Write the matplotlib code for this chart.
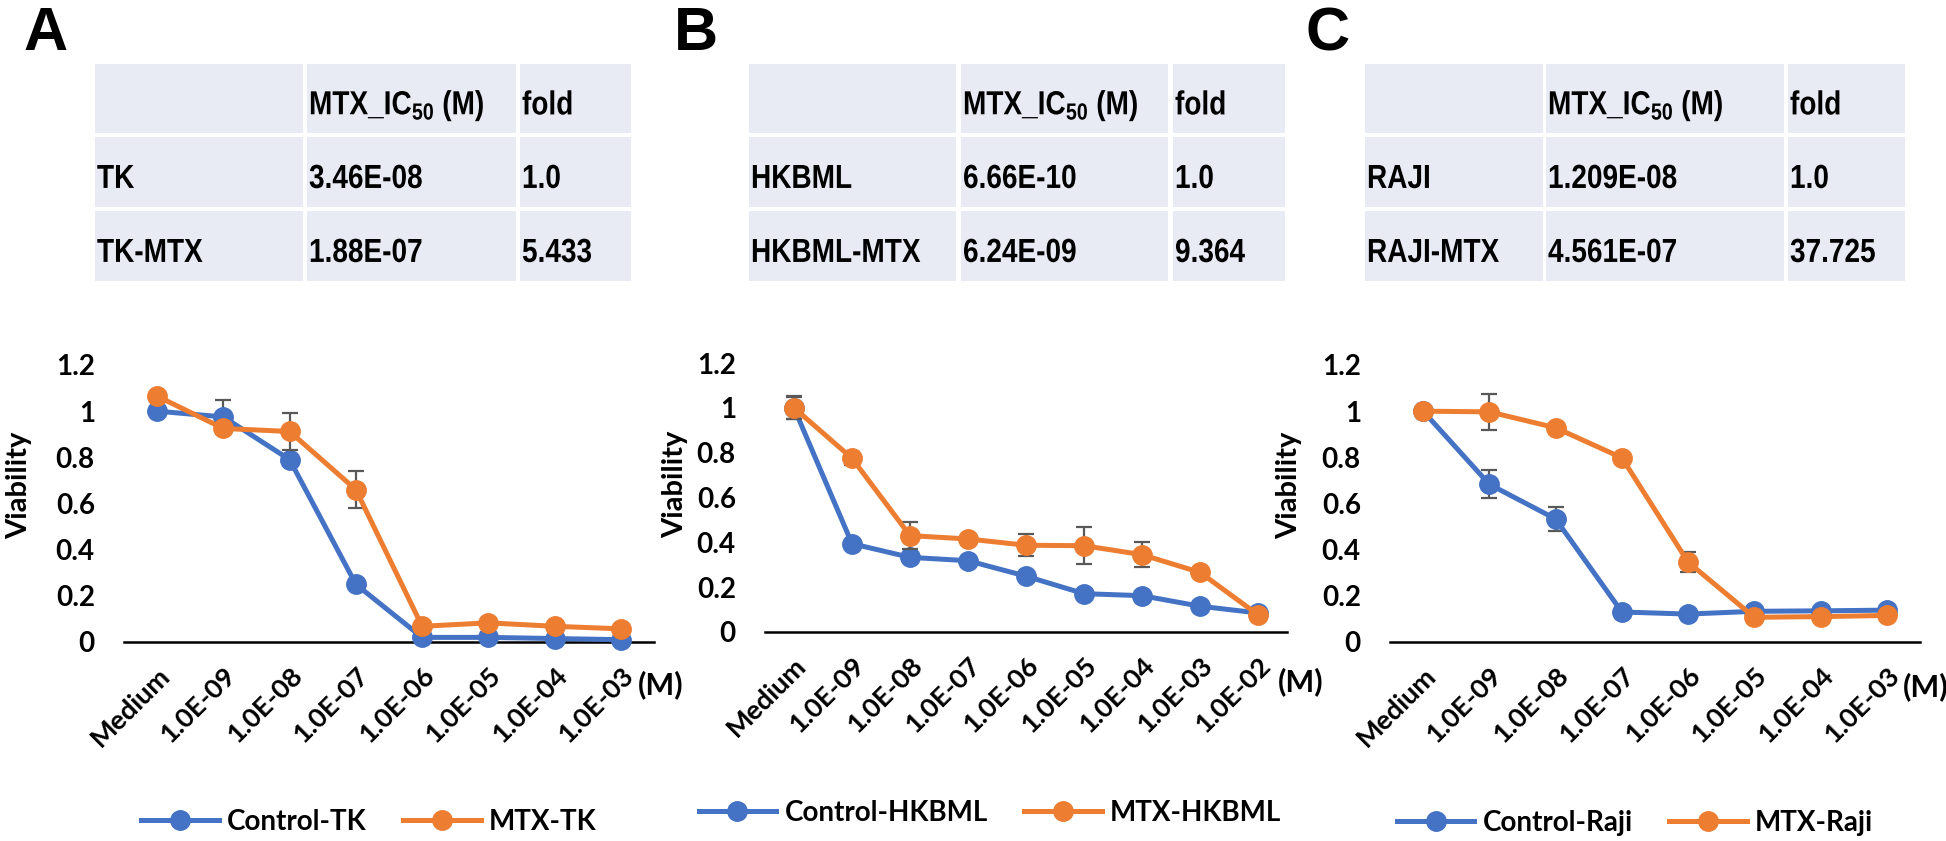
import matplotlib
matplotlib.use('Agg')
import matplotlib.pyplot as plt
from matplotlib import font_manager
from matplotlib.font_manager import FontProperties
from matplotlib.patches import Rectangle, PathPatch
from matplotlib.textpath import TextPath
from matplotlib.transforms import Affine2D, ScaledTranslation

W, H = 1946, 841

names = {f.name for f in font_manager.fontManager.ttflist}
body = 'Lato' if 'Lato' in names else 'DejaVu Sans'

plt.rcParams['mathtext.fontset'] = 'custom'
plt.rcParams['mathtext.rm'] = 'Liberation Sans:bold'
plt.rcParams['mathtext.bf'] = 'Liberation Sans:bold'
plt.rcParams['mathtext.it'] = 'Liberation Sans:bold'

blue = '#4472C4'
orange = '#ED7D31'
err_col = '#595959'
cell_col = '#E8EAF4'

# ---- data ----
conc_8 = ['Medium', '1.0E-09', '1.0E-08', '1.0E-07', '1.0E-06', '1.0E-05', '1.0E-04', '1.0E-03']
conc_9 = ['Medium', '1.0E-09', '1.0E-08', '1.0E-07', '1.0E-06', '1.0E-05', '1.0E-04', '1.0E-03', '1.0E-02']
yticks = [0, 0.2, 0.4, 0.6, 0.8, 1.0, 1.2]

ctrl_tk = [1.00, 0.975, 0.79, 0.25, 0.02, 0.02, 0.015, 0.01]
ctrl_tk_err = [0.01, 0.072, 0.02, 0.01, 0.005, 0.005, 0.005, 0.005]
mtx_tk = [1.065, 0.925, 0.912, 0.66, 0.068, 0.083, 0.068, 0.057]
mtx_tk_err = [0.01, 0.015, 0.079, 0.079, 0.01, 0.01, 0.01, 0.01]

ctrl_hk = [1.00, 0.394, 0.333, 0.318, 0.249, 0.171, 0.162, 0.115, 0.085]
ctrl_hk_err = [0.05, 0.015, 0.015, 0.015, 0.015, 0.015, 0.015, 0.015, 0.01]
mtx_hk = [1.00, 0.775, 0.43, 0.415, 0.387, 0.385, 0.345, 0.266, 0.077]
mtx_hk_err = [0.052, 0.03, 0.06, 0.01, 0.05, 0.083, 0.057, 0.01, 0.01]

ctrl_raji = [1.00, 0.683, 0.533, 0.13, 0.121, 0.133, 0.135, 0.138]
ctrl_raji_err = [0.01, 0.06, 0.052, 0.01, 0.01, 0.01, 0.01, 0.01]
mtx_raji = [1.00, 0.997, 0.928, 0.798, 0.346, 0.107, 0.11, 0.115]
mtx_raji_err = [0.01, 0.078, 0.01, 0.01, 0.043, 0.01, 0.01, 0.01]

tbl_header = ['', r'MTX_IC$_{\mathbf{50}}$ (M)', 'fold']
tbl_A = [['TK', '3.46E-08', '1.0'], ['TK-MTX', '1.88E-07', '5.433']]
tbl_B = [['HKBML', '6.66E-10', '1.0'], ['HKBML-MTX', '6.24E-09', '9.364']]
tbl_C = [['RAJI', '1.209E-08', '1.0'], ['RAJI-MTX', '4.561E-07', '37.725']]

# ---- layout (pixels) ----
panels = [
    dict(letter='A', lx=23, rows=tbl_A, cols=[(95, 303), (307, 516), (520, 631)],
         ax=(124, 654, 642, 365), labels=conc_8, ctrl=ctrl_tk, ctrl_err=ctrl_tk_err,
         mtx=mtx_tk, mtx_err=mtx_tk_err, names=('Control-TK', 'MTX-TK'),
         ylab=32, ylab_y=0.567, m=(638, 685), leg=(369, 822)),
    dict(letter='B', lx=674, rows=tbl_B, cols=[(749, 956), (961, 1168), (1173, 1285)],
         ax=(765, 1287, 632, 363), labels=conc_9, ctrl=ctrl_hk, ctrl_err=ctrl_hk_err,
         mtx=mtx_hk, mtx_err=mtx_hk_err, names=('Control-HKBML', 'MTX-HKBML'),
         ylab=688, ylab_y=0.55, m=(1278, 682), leg=(990, 813)),
    dict(letter='C', lx=1305, rows=tbl_C, cols=[(1365, 1543), (1546, 1784), (1788, 1905)],
         ax=(1390, 1920, 642, 365), labels=conc_8, ctrl=ctrl_raji, ctrl_err=ctrl_raji_err,
         mtx=mtx_raji, mtx_err=mtx_raji_err, names=('Control-Raji', 'MTX-Raji'),
         ylab=1302, ylab_y=0.567, m=(1903, 687), leg=(1635, 823)),
]
row_y = [(64, 133), (137, 207), (211, 281)]

fig = plt.figure(figsize=(W / 100, H / 100), dpi=100)

bg = fig.add_axes([0, 0, 1, 1])
bg.set_xlim(0, W)
bg.set_ylim(H, 0)
bg.axis('off')

cell_font = FontProperties(family='Liberation Sans', weight='bold')


def narrow_text(x, yc, s, size=24, squeeze=0.84):
    # condensed bold text (like Arial Narrow) drawn as a path
    tp = TextPath((0, 0), s, size=size, prop=cell_font)
    k = 100 / 72
    cap = 0.716 * size * k
    tr = Affine2D().scale(squeeze * k, -k).translate(x, yc + cap / 2)
    bg.add_patch(PathPatch(tr.transform_path(tp), color='black', lw=0))


shift = ScaledTranslation(-6 / 100, 0, fig.dpi_scale_trans)

for p in panels:
    bg.text(p['lx'], 6, p['letter'], fontsize=44, fontweight='bold',
            family='Liberation Sans', ha='left', va='top')
    table = [tbl_header] + p['rows']
    for r, (y0, y1) in enumerate(row_y):
        for c, (x0, x1) in enumerate(p['cols']):
            bg.add_patch(Rectangle((x0, y0), x1 - x0, y1 - y0, color=cell_col, lw=0))
            if table[r][c]:
                narrow_text(x0 + 2, (y0 + y1) / 2 + 4, table[r][c])
    bg.text(p['m'][0], p['m'][1], '(M)', fontsize=22, fontweight='bold',
            family=body, ha='left', va='center')

    left, right, y0, ytop = p['ax']
    ax = fig.add_axes([left / W, 1 - y0 / H, (right - left) / W, (y0 - ytop) / H])
    x = list(range(len(p['labels'])))
    ax.errorbar(x, p['ctrl'], yerr=p['ctrl_err'], fmt='none', ecolor=err_col,
                elinewidth=1.6, capsize=6, capthick=1.6, zorder=2, clip_on=False)
    ax.plot(x, p['ctrl'], '-o', color=blue, lw=3.6, ms=14, label=p['names'][0],
            zorder=3, clip_on=False)
    ax.errorbar(x, p['mtx'], yerr=p['mtx_err'], fmt='none', ecolor=err_col,
                elinewidth=1.6, capsize=6, capthick=1.6, zorder=4, clip_on=False)
    ax.plot(x, p['mtx'], '-o', color=orange, lw=3.6, ms=14, label=p['names'][1],
            zorder=5, clip_on=False)

    ax.set_xlim(-0.5, len(x) - 0.5)
    ax.set_ylim(0, 1.2)
    for s in ['top', 'right', 'left']:
        ax.spines[s].set_visible(False)
    ax.spines['bottom'].set_linewidth(1.8)
    ax.spines['bottom'].set_color('black')
    ax.set_yticks(yticks)
    ax.set_yticklabels(['%g' % v for v in yticks], fontsize=20, fontweight='bold', family=body)
    ax.set_xticks(x)
    ax.set_xticklabels(p['labels'], rotation=45, ha='right', va='top',
                       rotation_mode='anchor', fontsize=19.5, fontweight='bold', family=body)
    for lab in ax.get_xticklabels():
        lab.set_transform(lab.get_transform() + shift)
    ax.tick_params(axis='both', length=0)
    ax.tick_params(axis='y', pad=21)
    ax.tick_params(axis='x', pad=15)
    ax.set_ylabel('Viability', fontsize=21, fontweight='bold', family=body)
    ax.yaxis.set_label_coords((p['ylab'] - left) / (right - left), p['ylab_y'])

    ax.legend(loc='center', bbox_to_anchor=(p['leg'][0] / W, 1 - p['leg'][1] / H),
              bbox_transform=fig.transFigure, ncol=2, frameon=False,
              prop={'family': body, 'weight': 'bold', 'size': 20},
              handlelength=2.8, handletextpad=0.3, columnspacing=1.3)

fig.savefig('out.png', dpi=100)
